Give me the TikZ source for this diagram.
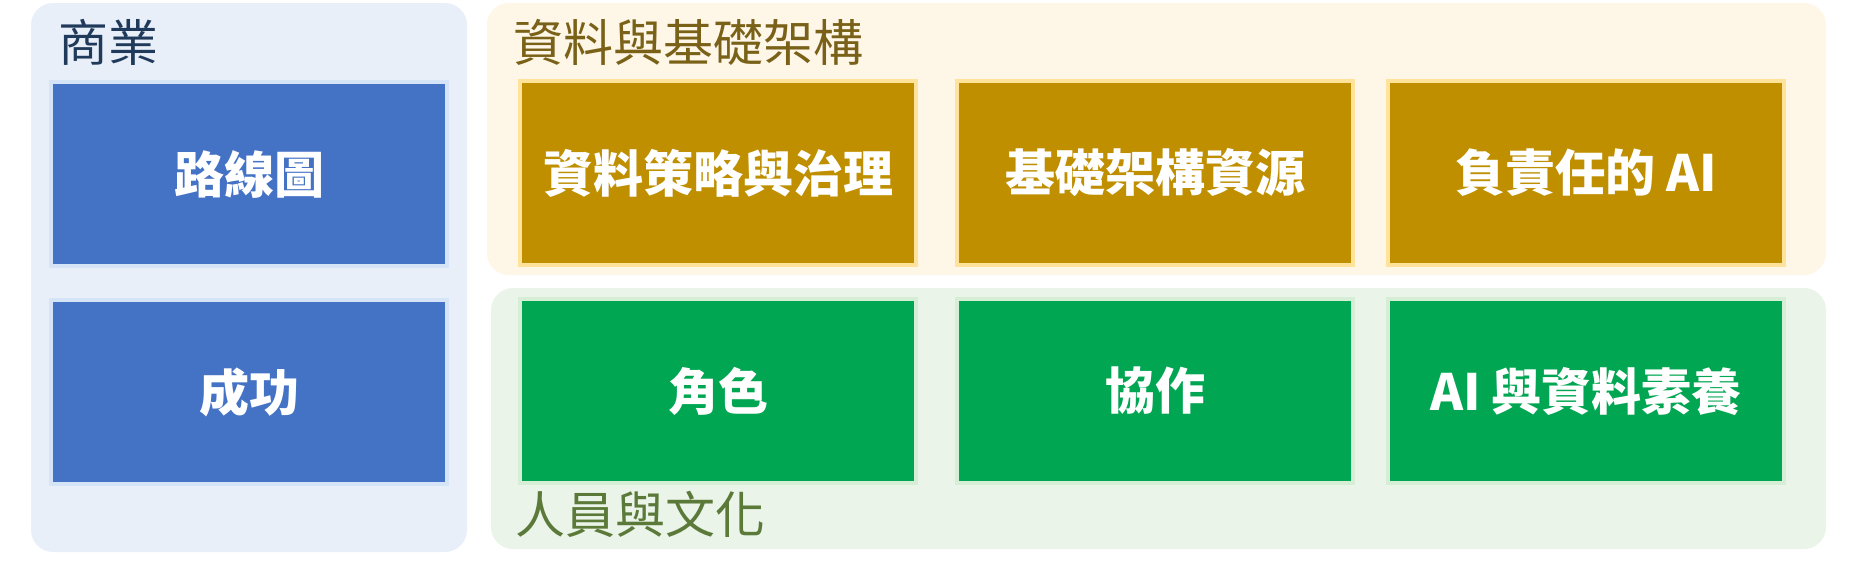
\documentclass[tikz,border=0pt]{standalone}
\usepackage{fontspec}
\setmainfont{Noto Sans CJK TC}
\usetikzlibrary{positioning}
\usepackage{xcolor}

\definecolor{bizpanel}{HTML}{E8EFF9}
\definecolor{bizbox}{HTML}{4472C4}
\definecolor{bizedge}{HTML}{D6E4F7}
\definecolor{biztitle}{HTML}{1F3A5A}
\definecolor{datapanel}{HTML}{FEF6E6}
\definecolor{databox}{HTML}{BF8F00}
\definecolor{dataedge}{HTML}{FFE39A}
\definecolor{datatitle}{HTML}{7A6118}
\definecolor{peoplepanel}{HTML}{EAF4E8}
\definecolor{peoplebox}{HTML}{00A651}
\definecolor{peopleedge}{HTML}{D5EED5}
\definecolor{peopletitle}{HTML}{5B7A3A}

\begin{document}
\begin{tikzpicture}[
    x=1pt, y=-1pt,
    panel/.style={rounded corners=22pt},
    tilebox/.style={rectangle, line width=4pt, minimum width=396pt, minimum height=184pt,
                    inner sep=0pt, text=white, font=\fontsize{50}{50}\selectfont\bfseries},
    paneltitle/.style={anchor=base west, inner sep=0pt, font=\fontsize{50}{50}\selectfont}
]

   \useasboundingbox (0,0) rectangle (1854,560);

   % Panels
   \fill[panel, bizpanel] (31,3) rectangle (467,552);
   \fill[panel, datapanel] (487,3) rectangle (1826,275);
   \fill[panel, peoplepanel] (491,288) rectangle (1826,549);

   % Panel titles
   \node[paneltitle, text=biztitle] (biz) at (58,61) {商業};
   \node[paneltitle, text=datatitle] (data) at (513,61) {資料與基礎架構};
   \node[paneltitle, text=peopletitle] (people) at (515,533) {人員與文化};

   % Business boxes
   \node[tilebox, fill=bizbox, draw=bizedge] (roadmap) at (249,174) {路線圖};
   \node[tilebox, fill=bizbox, draw=bizedge] (success) [below=30pt of roadmap] {成功};

   % Data and infrastructure boxes
   \node[tilebox, fill=databox, draw=dataedge] (strategy) at (718,173) {資料策略與治理};
   \node[tilebox, fill=databox, draw=dataedge] (infra) [right=37pt of strategy] {基礎架構資源};
   \node[tilebox, fill=databox, draw=dataedge] (respai) [right=31pt of infra] {負責任的 AI};

   % People and culture boxes
   \node[tilebox, fill=peoplebox, draw=peopleedge] (roles) [below=30pt of strategy] {角色};
   \node[tilebox, fill=peoplebox, draw=peopleedge] (collab) [below=30pt of infra] {協作};
   \node[tilebox, fill=peoplebox, draw=peopleedge] (literacy) [below=30pt of respai] {AI 與資料素養};

\end{tikzpicture}
\end{document}
